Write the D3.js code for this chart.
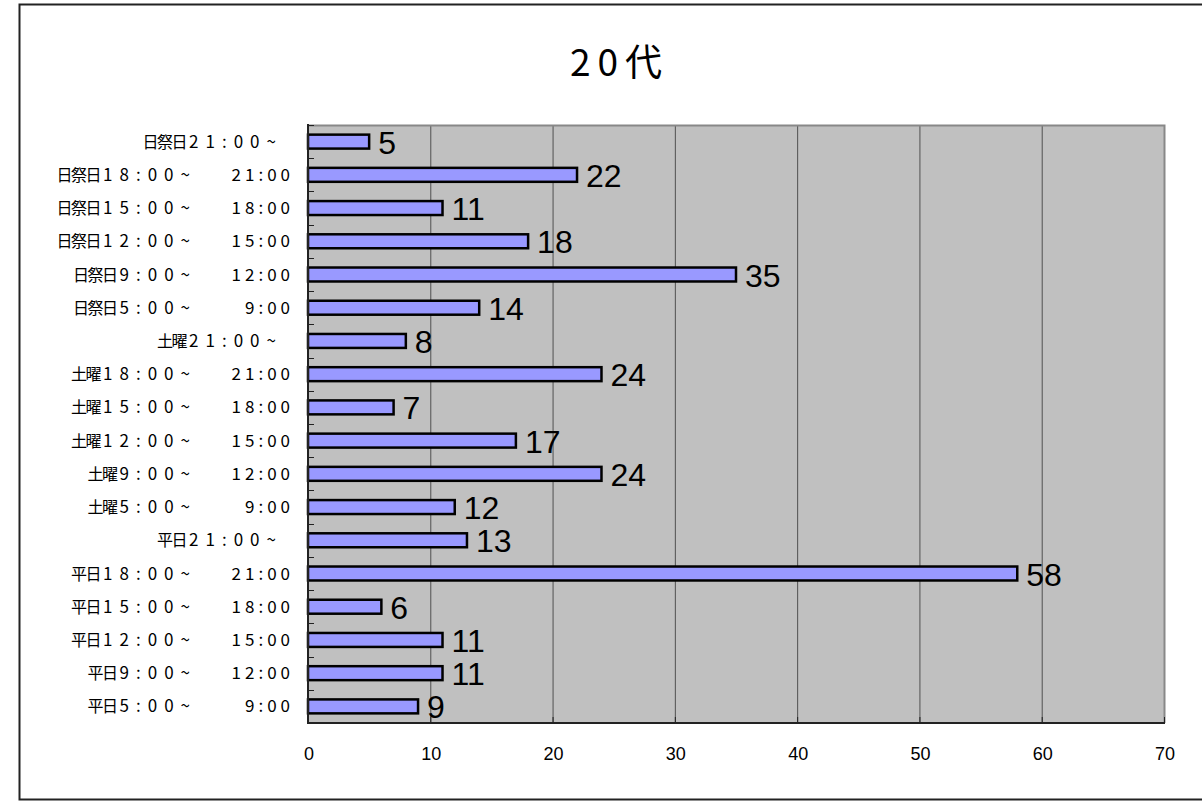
<!DOCTYPE html>
<html><head><meta charset="utf-8">
<script src="https://cdn.jsdelivr.net/npm/d3@7"></script>
<style>body{margin:0;background:#fff;} svg{display:block;}</style>
</head><body>
<svg id="c" width="1202" height="801"></svg>
<script>
// ---- data (bottom to top order as drawn in the chart) ----
const categories = [
  "平日5:00～|9:00", "平日9:00～|12:00", "平日12:00～|15:00", "平日15:00～|18:00",
  "平日18:00～|21:00", "平日21:00～|",
  "土曜5:00～|9:00", "土曜9:00～|12:00", "土曜12:00～|15:00", "土曜15:00～|18:00",
  "土曜18:00～|21:00", "土曜21:00～|",
  "日祭日5:00～|9:00", "日祭日9:00～|12:00", "日祭日12:00～|15:00", "日祭日15:00～|18:00",
  "日祭日18:00～|21:00", "日祭日21:00～|"
];
const values = [9, 11, 11, 6, 58, 13, 12, 24, 17, 7, 24, 8, 14, 35, 18, 11, 22, 5];
const xTicks = [0, 10, 20, 30, 40, 50, 60, 70];
const title = "20代";

const svg = d3.select("#c");
const L = 308, R = 1164, T = 125, B = 723;

// outer frame
svg.append("rect").attr("x", 19.5).attr("y", 4.5).attr("width", 1192).attr("height", 795)
  .attr("fill", "#fff").attr("stroke", "#222").attr("stroke-width", 2);

// title
const tt = svg.append("text").attr("x", 616).attr("y", 76).attr("text-anchor", "middle")
  .attr("font-family", "'Noto Sans CJK JP', sans-serif").attr("font-size", 37).attr("fill", "#000");
tt.append("tspan").attr("letter-spacing", 7).text(title.slice(0, 2));
tt.append("tspan").text(title.slice(2));

const x = d3.scaleLinear().domain([0, 70]).range([L, R]);
const y = d3.scaleBand().domain(d3.range(categories.length).reverse()).range([T, B]).paddingInner(0.58).paddingOuter(0.29);
const yb = d3.scaleBand().domain(d3.range(categories.length).reverse()).range([T, B]);

// plot bg
svg.append("rect").attr("x", L).attr("y", T).attr("width", R - L).attr("height", B - T).attr("fill", "#c0c0c0");

// grid lines
svg.append("g").selectAll("line").data(xTicks.filter(d => d > 0 && d < 70)).join("line")
  .attr("x1", d => x(d) + 0.5).attr("x2", d => x(d) + 0.5).attr("y1", T).attr("y2", B)
  .attr("stroke", "#505050").attr("stroke-width", 1);

// plot border (top/right gray)
svg.append("path").attr("d", `M${L},${T + 0.5}H${R + 0.5}V${B}`).attr("fill", "none").attr("stroke", "#888").attr("stroke-width", 2);

// bars
svg.append("g").selectAll("rect").data(values).join("rect")
  .attr("x", x(0)).attr("y", (d, i) => y(i)).attr("width", d => x(d) - x(0)).attr("height", y.bandwidth())
  .attr("fill", "#9999ff").attr("stroke", "#000").attr("stroke-width", 2.5);

// value labels
svg.append("g").selectAll("text").data(values).join("text")
  .attr("x", d => x(d) + 9).attr("y", (d, i) => yb(i) + yb.bandwidth() / 2 + 12)
  .attr("font-family", "'Liberation Sans', Arial, sans-serif").attr("font-size", 32).attr("fill", "#000")
  .text(d => d);

// axes lines
svg.append("line").attr("x1", L).attr("x2", L).attr("y1", T - 1).attr("y2", B + 1).attr("stroke", "#222").attr("stroke-width", 2);
svg.append("line").attr("x1", L - 1).attr("x2", R + 1).attr("y1", B).attr("y2", B).attr("stroke", "#222").attr("stroke-width", 2);

// y ticks (inward) at category boundaries
const bounds = d3.range(categories.length + 1).map(i => T + i * yb.step());
svg.append("g").selectAll("line").data(bounds).join("line")
  .attr("x1", L).attr("x2", L + 6).attr("y1", d => Math.round(d) + 0.5).attr("y2", d => Math.round(d) + 0.5)
  .attr("stroke", "#222").attr("stroke-width", 1);
// x ticks (inward)
svg.append("g").selectAll("line").data(xTicks).join("line")
  .attr("x1", d => x(d) + 0.5).attr("x2", d => x(d) + 0.5).attr("y1", B).attr("y2", B - 6)
  .attr("stroke", "#222").attr("stroke-width", 1);

// x tick labels
svg.append("g").selectAll("text").data(xTicks).join("text")
  .attr("x", d => x(d) + 1).attr("y", 760).attr("text-anchor", "middle")
  .attr("font-family", "'Liberation Sans', Arial, sans-serif").attr("font-size", 18).attr("fill", "#000")
  .text(d => d);

// category labels
const lg = svg.append("g").attr("font-family", "'Noto Sans CJK JP', sans-serif").attr("font-size", 17).attr("fill", "#000");
categories.forEach((c, i) => {
  const [a, b] = c.split("|");
  const m = a.match(/^(\D+)(.*)$/);
  const cy = yb(i) + yb.bandwidth() / 2 + 6;
  const t1 = lg.append("text").attr("x", b ? 197 : 283).attr("y", cy).attr("text-anchor", "end");
  t1.append("tspan").attr("font-size", 16).attr("letter-spacing", -1.5).text(m[1]);
  t1.append("tspan").attr("letter-spacing", 7).attr("dx", 3).text(m[2].replace("～", "~"));
  if (b) {
    lg.append("text").attr("x", 294).attr("y", cy).attr("text-anchor", "end")
      .attr("letter-spacing", 4).text(b);
  }
});
</script>
</body></html>
